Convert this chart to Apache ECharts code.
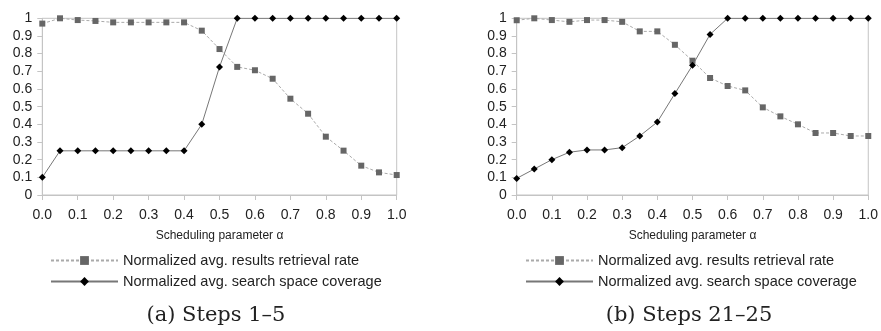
<!DOCTYPE html>
<html><head><meta charset="utf-8">
<script src="https://cdn.jsdelivr.net/npm/echarts@6/dist/echarts.min.js"></script>
<style>html,body{margin:0;padding:0;background:#fff}#c{width:881px;height:331px}</style>
</head><body><div id="c"></div>
<script>
const alphas = [0.0,0.05,0.1,0.15,0.2,0.25,0.3,0.35,0.4,0.45,0.5,0.55,0.6,0.65,0.7,0.75,0.8,0.85,0.9,0.95,1.0];
const retrievalA = [0.97,1.0,0.99,0.985,0.977,0.977,0.977,0.977,0.977,0.93,0.826,0.725,0.706,0.658,0.545,0.46,0.33,0.251,0.166,0.128,0.113];
const coverageA  = [0.10,0.25,0.25,0.25,0.25,0.25,0.25,0.25,0.25,0.40,0.725,1,1,1,1,1,1,1,1,1,1];
const retrievalB = [0.989,1.0,0.99,0.98,0.99,0.99,0.98,0.926,0.926,0.85,0.76,0.662,0.617,0.592,0.496,0.445,0.40,0.351,0.351,0.334,0.334];
const coverageB  = [0.094,0.147,0.20,0.242,0.255,0.255,0.268,0.334,0.413,0.574,0.734,0.909,1,1,1,1,1,1,1,1,1];
const nameR = 'Normalized avg. results retrieval rate';
const nameC = 'Normalized avg. search space coverage';
const captions = ['(a) Steps 1–5', '(b) Steps 21–25'];
const xName = 'Scheduling parameter α';

const pair = (xs, ys) => xs.map((x, i) => [x, ys[i]]);
const font = 'Liberation Sans, Arial, sans-serif';
const axisCol = '#c4c4c4';

function xAx(i){ return {
  type:'value', gridIndex:i, min:0, max:1, interval:0.1,
  name:xName, nameLocation:'middle', nameGap:35,
  nameTextStyle:{fontFamily:font, fontSize:12, color:'#222'},
  axisLine:{show:true, lineStyle:{color:axisCol}},
  axisTick:{show:true, length:5, lineStyle:{color:axisCol}},
  axisLabel:{fontFamily:font, fontSize:14, color:'#222', margin:13, formatter:v=>v.toFixed(1)},
  splitLine:{show:false}
};}
function yAx(i){ return {
  type:'value', gridIndex:i, min:0, max:1, interval:0.1,
  axisLine:{show:true, lineStyle:{color:axisCol}},
  axisTick:{show:true, length:5, lineStyle:{color:axisCol}},
  axisLabel:{fontFamily:font, fontSize:14, color:'#222', margin:10, formatter:v=>String(+v.toFixed(1))},
  splitLine:{show:false}
};}
function sR(i, data){ return {
  name:nameR, type:'line', xAxisIndex:i, yAxisIndex:i, data:pair(alphas,data),
  symbol:'rect', symbolSize:6, itemStyle:{color:'#666666'},
  lineStyle:{color:'#aaaaaa', width:1, type:[3,2]}, z:2, animation:false
};}
function sC(i, data){ return {
  name:nameC, type:'line', xAxisIndex:i, yAxisIndex:i, data:pair(alphas,data),
  symbol:'diamond', symbolSize:7, itemStyle:{color:'#000'},
  lineStyle:{color:'#777777', width:1}, z:3, animation:false
};}
function leg(left){ return {
  orient:'vertical', left:left, top:253, padding:0, itemWidth:67, itemHeight:11, itemGap:6,
  textStyle:{fontFamily:font, fontSize:14.5, color:'#222'}, selectedMode:false,
  data:[nameR, nameC]
};}
const capStyle = {fontFamily:'DejaVu Serif, serif', fontSize:21, fontWeight:'normal', color:'#222'};

const chart = echarts.init(document.getElementById('c'), null, {renderer:'canvas'});
chart.setOption({
  animation:false,
  grid:[
    {left:42.3, right:484.3, top:18.3, bottom:136, show:true, borderColor:axisCol, borderWidth:1},
    {left:516.7, right:11.7, top:18.3, bottom:136, show:true, borderColor:axisCol, borderWidth:1}
  ],
  xAxis:[xAx(0), xAx(1)],
  yAxis:[yAx(0), yAx(1)],
  legend:[leg(50), leg(525)],
  title:[
    {text:captions[0], left:216, top:305, padding:0, textAlign:'center', textStyle:capStyle},
    {text:captions[1], left:689, top:305, padding:0, textAlign:'center', textStyle:capStyle}
  ],
  series:[sR(0,retrievalA), sC(0,coverageA), sR(1,retrievalB), sC(1,coverageB)]
});
</script></body></html>
